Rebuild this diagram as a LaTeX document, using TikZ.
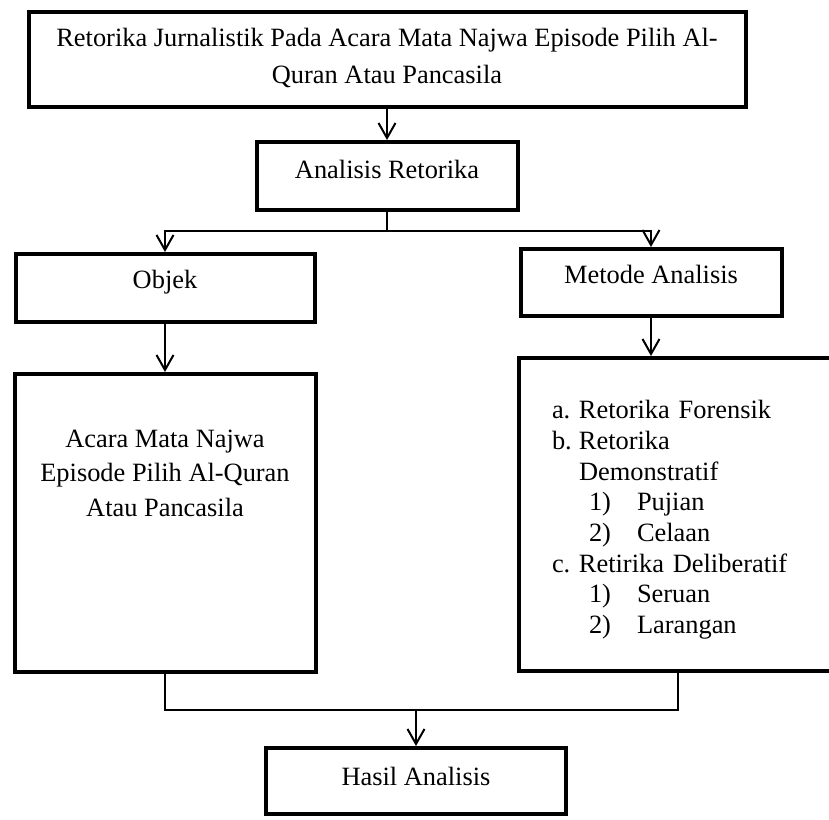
\documentclass[tikz,border=0pt]{standalone}
\usepackage{fontspec}
\setmainfont{Liberation Serif}
\usetikzlibrary{arrows.meta}
\tikzstyle{kotak}=[rectangle, draw, line width=4pt, align=center, text height=18pt, font=\fontsize{26.4}{34.5}\selectfont]

\begin{document}
\begin{tikzpicture}[x=1pt, y=-1pt, line width=2pt, >={Straight Barb[length=15pt, width=17pt]}]
                \useasboundingbox (0,0) rectangle (829,819);
                \node[kotak, minimum width=717pt, minimum height=95pt, text height=55pt, text depth=6.6pt, font=\fontsize{26.4}{37}\selectfont] (judul) at (387, 59.5) {Retorika Jurnalistik Pada Acara Mata Najwa Episode Pilih Al-\\Quran Atau Pancasila};
                \node[kotak, minimum width=261pt, minimum height=68pt, text depth=12.6pt] (ar) at (387, 176) {Analisis Retorika};
                \node[kotak, minimum width=299pt, minimum height=68pt, text depth=16.6pt] (objek) at (165, 288) {Objek};
                \node[kotak, minimum width=261pt, minimum height=67pt, text depth=15.6pt] (metode) at (651, 282.5) {Metode Analisis};
                \node[kotak, minimum width=301pt, minimum height=298pt, text height=87pt, text depth=100.6pt] (acara) at (165, 523) {Acara Mata Najwa\\Episode Pilih Al-Quran\\Atau Pancasila};
                \node[kotak, minimum width=318pt, minimum height=313pt, text depth=209.5pt, text width=252pt, align=left, font=\fontsize{26.4}{30.7}\selectfont] (jenis) at (678, 514.5) {\makebox[27pt][l]{a.}Retorika Forensik\\
                    \makebox[27pt][l]{b.}Retorika\\
                    \hspace*{27pt}Demonstratif\\
                    \hspace*{37pt}\makebox[48pt][l]{1)}Pujian\\
                    \hspace*{37pt}\makebox[48pt][l]{2)}Celaan\\
                    \makebox[27pt][l]{c.}Retirika Deliberatif\\
                    \hspace*{37pt}\makebox[48pt][l]{1)}Seruan\\
                    \hspace*{37pt}\makebox[48pt][l]{2)}Larangan};
                \node[kotak, minimum width=300pt, minimum height=66pt, text depth=8.6pt] (hasil) at (416, 781) {Hasil Analisis};
                \draw[->] (judul)--(ar);
                \draw (ar.south) -- ++(0,19) coordinate (cabang);
                \draw[->] (cabang) -| (objek.north);
                \draw[->] (cabang) -| (metode.north);
                \draw[->] (objek)--(acara);
                \draw[->] (metode.south) -- (metode.south |- jenis.north);
                \draw (acara.south) -- ++(0,36) coordinate (gabung) -| (jenis.south);
                \draw[->] (gabung -| hasil.north) -- (hasil.north);
            \end{tikzpicture}
\end{document}
